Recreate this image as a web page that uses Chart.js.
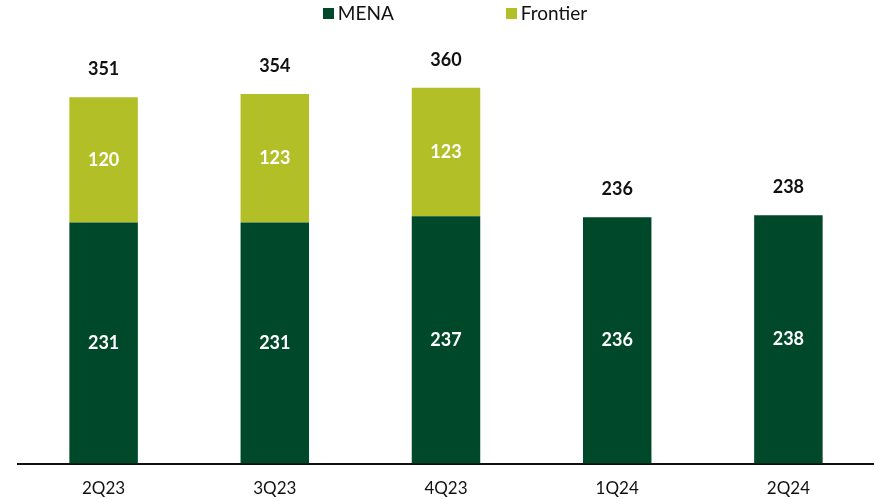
<!DOCTYPE html>
<html>
<head>
<meta charset="utf-8">
<script src="https://cdn.jsdelivr.net/npm/chart.js@4"></script>
<style>
  html, body { margin: 0; padding: 0; background: #fff; }
  #wrap { position: relative; width: 874px; height: 499px; }
  canvas { display: block; }
  #legend { position: absolute; top: 1px; left: 0; width: 874px; display: flex; justify-content: center; gap: 112px;
            font-family: Lato, "Open Sans", sans-serif; font-size: 19px; color: #111; padding-left: 36px; box-sizing: border-box; }
  #legend span.box { display: inline-block; width: 11px; height: 11px; margin-right: 4px; vertical-align: 1px; }
</style>
</head>
<body>
<div id="wrap">
  <canvas id="chart" width="874" height="499"></canvas>
  <div id="legend"></div>
</div>
<script>
const categories = ["2Q23", "3Q23", "4Q23", "1Q24", "2Q24"];
const menaValues = [231, 231, 237, 236, 238];
const frontierValues = [120, 123, 123, 0, 0];
const totalValues = [351, 354, 360, 236, 238];
const seriesNames = ["MENA", "Frontier"];
const seriesColors = ["#00482A", "#B3BF27"];

// 범례 (HTML)
const legendEl = document.getElementById("legend");
seriesNames.forEach((name, i) => {
    const item = document.createElement("div");
    item.innerHTML = '<span class="box" style="background:' + seriesColors[i] + '"></span>' + name;
    legendEl.appendChild(item);
});

// 막대 안/위 라벨
const barLabels = {
    id: "barLabels",
    afterDatasetsDraw(chart) {
        const ctx = chart.ctx;
        ctx.save();
        ctx.textAlign = "center";
        ctx.textBaseline = "middle";
        ctx.font = "bold 18px Lato, 'Open Sans', sans-serif";
        chart.data.datasets.forEach((ds, di) => {
            const meta = chart.getDatasetMeta(di);
            meta.data.forEach((bar, i) => {
                const v = ds.data[i];
                if (!v) return;
                ctx.fillStyle = "#ffffff";
                ctx.fillText(v, bar.x, (bar.y + bar.base) / 2);
            });
        });
        // 합계
        const y = chart.scales.y;
        const x = chart.scales.x;
        ctx.fillStyle = "#111111";
        totalValues.forEach((t, i) => {
            ctx.fillText(t, x.getPixelForValue(i), y.getPixelForValue(t) - 28);
        });
        ctx.restore();
    }
};

new Chart(document.getElementById("chart").getContext("2d"), {
    type: "bar",
    data: {
        labels: categories,
        datasets: [
            { label: seriesNames[0], data: menaValues, backgroundColor: seriesColors[0] },
            { label: seriesNames[1], data: frontierValues, backgroundColor: seriesColors[1] }
        ]
    },
    options: {
        responsive: false,
        animation: false,
        layout: { padding: { top: 46, left: 18, right: 0, bottom: -15 } },
        datasets: { bar: { categoryPercentage: 1, barPercentage: 0.40 } },
        plugins: {
            legend: { display: false },
            tooltip: { enabled: false }
        },
        scales: {
            x: {
                stacked: true,
                grid: { display: false, drawTicks: false },
                border: { display: true, color: "#111111", width: 2 },
                ticks: { color: "#111111", padding: 15, font: { family: "Lato, 'Open Sans', sans-serif", size: 17 } }
            },
            y: {
                stacked: true,
                display: false,
                min: 0,
                max: 400
            }
        }
    },
    plugins: [barLabels]
});
</script>
</body>
</html>
